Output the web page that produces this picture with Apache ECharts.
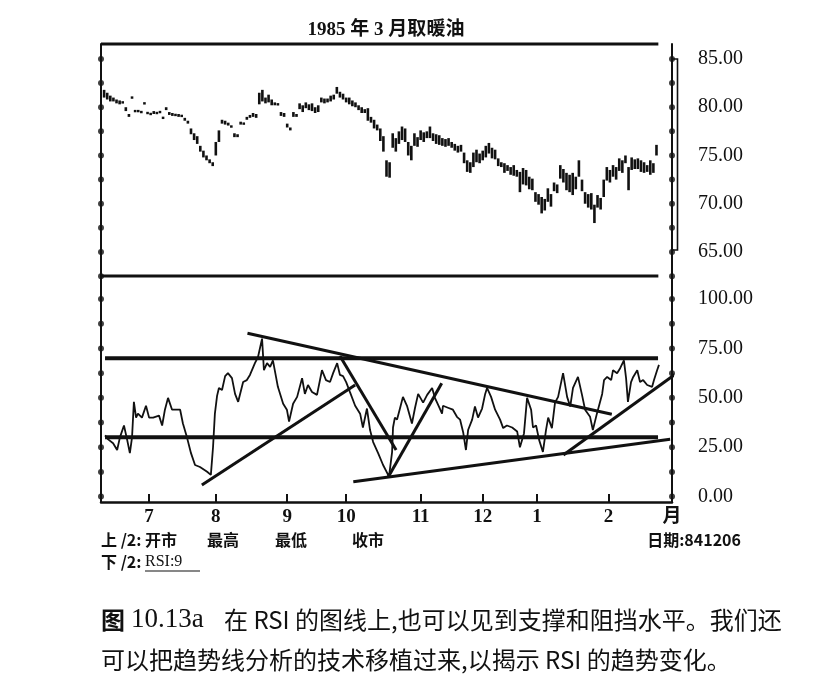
<!DOCTYPE html>
<html><head><meta charset="utf-8">
<script src="https://cdn.jsdelivr.net/npm/echarts@6.0.0/dist/echarts.min.js"></script>
<style>html,body{margin:0;padding:0;background:#fff}#c{width:827px;height:689px}</style>
</head><body><div id="c"></div>
<script>
// ---- data ----
const titleText = '1985 年 3 月取暖油';
const monthTickDays = [15.5, 37, 60, 79, 103, 123, 140.5, 163.5];
const monthLabels = ['7', '8', '9', '10', '11', '12', '1', '2'];
const priceTicks = [62.5, 65, 67.5, 70, 72.5, 75, 77.5, 80, 82.5, 85];
const priceLabels = [65, 70, 75, 80, 85];
const rsiTicks = [0, 12.5, 25, 37.5, 50, 62.5, 75, 87.5, 100];
const rsiLabels = [0, 25, 50, 75, 100];
const priceStartDay = 1;
const priceHigh = [81.8,81.5,81.2,81.0,80.8,80.7,80.6,80.0,79.3,81.1,79.7,79.7,79.6,80.5,79.5,79.4,79.6,79.5,79.6,79.0,
80.0,79.5,79.4,79.3,79.3,79.2,78.9,78.6,77.8,77.3,77.0,76.0,75.5,75.0,74.6,74.3,76.4,77.6,78.7,78.6,
78.4,78.1,77.3,77.2,78.5,78.4,79.0,79.2,79.4,79.3,81.5,81.8,81.0,81.3,80.8,80.5,80.4,79.5,79.4,78.3,
77.9,79.5,79.3,80.4,80.2,80.5,80.3,80.4,80.0,80.2,81.0,80.9,80.9,81.2,81.3,82.1,81.6,81.4,81.0,81.0,
80.7,80.5,80.2,80.0,79.8,79.9,79.0,78.7,78.2,77.8,77.0,74.5,74.3,77.3,76.8,77.5,78.0,77.8,76.4,76.0,
77.3,76.9,77.6,77.4,77.5,78.0,77.3,77.2,77.1,76.8,76.7,76.8,76.4,76.2,76.0,76.1,75.3,74.5,74.3,75.3,
75.6,75.2,75.5,76.0,76.3,75.8,75.6,74.7,74.3,74.2,74.0,73.8,74.0,73.5,73.3,73.7,73.5,72.8,72.6,71.2,
71.0,70.7,70.5,71.6,71.0,72.2,72.0,74.0,73.6,73.2,73.0,73.2,72.8,74.5,72.5,71.2,71.0,71.1,69.9,70.9,
70.6,72.5,73.8,73.5,74.0,73.8,74.7,74.5,75.0,73.8,74.8,74.6,74.7,74.5,74.3,74.0,74.5,74.2,76.1];
const priceLow = [81.0,80.8,80.6,80.6,80.4,80.3,80.4,79.6,79.0,80.9,79.5,79.5,79.4,80.3,79.3,79.2,79.3,79.3,79.4,78.8,
79.7,79.2,79.1,79.1,79.0,79.0,78.6,78.3,77.2,76.6,76.2,75.4,74.8,74.5,74.2,73.9,75.0,76.4,78.3,78.2,
78.1,77.9,76.9,76.9,78.2,78.2,78.7,78.9,79.0,78.9,80.3,80.6,80.4,80.5,80.2,80.2,80.2,79.1,79.0,77.9,
77.6,79.0,79.0,79.8,79.5,79.9,79.7,79.6,79.4,79.5,80.5,80.4,80.5,80.6,80.8,81.4,81.0,80.8,80.5,80.3,
80.1,80.0,79.7,79.4,79.4,78.6,78.4,77.8,77.6,76.5,75.4,72.8,72.7,75.8,75.4,76.2,76.6,76.4,75.0,74.5,
76.0,75.9,76.6,76.4,76.8,76.8,76.5,76.2,76.1,76.0,75.9,76.0,75.8,75.5,75.3,75.4,74.2,73.3,73.2,73.8,
74.3,74.2,74.5,74.8,75.2,74.7,74.6,73.9,73.8,73.2,73.4,73.0,72.9,72.8,71.2,72.0,71.9,71.5,71.4,70.2,
69.9,69.0,69.3,70.2,69.7,71.3,71.1,72.6,72.2,71.4,71.2,70.9,71.5,72.8,71.3,70.0,69.6,69.4,68.0,69.6,
69.4,70.7,72.4,72.2,72.8,72.5,73.4,73.2,74.2,71.4,73.5,73.6,73.6,73.3,73.2,73.3,73.0,73.2,75.0];
const rsiDays = [1.3,2.3,3.9,5.2,6.1,7.4,8.4,9.3,10,10.6,11.3,11.9,13.2,14.5,15.5,16.8,18.7,19.7,20.6,21.6,
22.9,25.5,26.4,27.7,29,30.3,31.9,34.2,35.4,36.1,36.7,37.4,38,39,40,40.9,42.2,43.2,44.2,45.8,
47,48,49.6,50.6,51.9,52.5,53.5,54.5,55.4,57,58.7,59.9,60.6,61.9,63.2,64.8,65.7,66.7,68,69.6,
71.2,72.5,73.8,74.8,76.1,77,78,79,80.2,81.9,83.5,84.4,85.7,86.7,87.7,89.3,90.9,92.2,92.8,93.8,
94.1,94.7,95.4,96.4,97.3,98.6,100.2,101.2,102.2,103.8,105.1,106.7,107.6,108.9,109.9,110.2,111.8,113.4,114.7,115.7,
116.7,117.6,118.3,119.6,120.5,121.5,122.8,123.8,124.4,125.7,127,128.6,129.6,130.8,132.5,134.1,135,136.3,137.3,138.6,
139.2,140.2,141.2,142.4,143.4,144.1,145.3,146.3,147.3,148.9,150.2,151.2,152.1,153.7,155,156,157.6,158.5,159.8,161.5,
162.1,163.1,164.4,165,166.3,167.3,168.5,169.2,169.8,170.8,171.5,172.8,173.7,174.7,176,177.6,178.2,179.2,179.8];
const rsiValues = [31,29,27,23.6,30,36,29,22,30,48,40,42,40,46,40,40,41,36,44,50,
44,44,37,30,22,16,15,12.6,11,25,42,51,55,54,61,62.5,60,52,48,58,
59,61.6,67.6,70.7,80,64,67.6,65.7,69,55.6,47,44,38,47,50.5,60,52,56.5,53,51.5,
64,59,58,62.5,67.6,61.6,61,58,53,46,42,35,44.6,33.7,27.6,22,16,12,10,22.5,
35,40,39,45,50.5,46,37,45,52,47.6,51.5,55,50,45.6,42,46,45,44,40.4,39,
32.6,23.6,33.7,39,45.6,40,44.6,52,55,50.5,44,39,34.7,36,35,33,25,32,50,44,
35,36,28.6,22.6,33.7,40,34.7,47.6,50.5,62.5,50.5,45.6,55,60.6,51.5,44,40.4,33.7,42,52,
59,60.6,59,64,62.5,65,69,60,48,58,60.6,64,58,59,56.5,55.6,59,64,66.7];
const rsiLevels = [70, 30];
const levelSpan = [1.3, 179.5];
const trendLines = [
  [[32.5, 5.9], [81.9, 56.5]],
  [[47.2, 82.7], [164.6, 41.7]],
  [[77, 71.2], [95.1, 23.6]],
  [[92.6, 10.1], [109.8, 57.4]],
  [[81.3, 7.5], [183.4, 29.0]],
  [[149, 21.1], [187.6, 64.9]]
];
const xMax = 184;
const priceRange = [62.41, 86.55];
const rsiRange = [-2.73, 111.7];
const frameEnd = 179.6;

// ---- chart ----
const INK = '#111';
const SERIF = '"Liberation Serif", "Noto Sans CJK SC", serif';
const CJK = '"Noto Sans CJK SC", "Liberation Serif", sans-serif';
const chart = echarts.init(document.getElementById('c'), null, {renderer: 'canvas'});

const priceData = priceHigh.map((h, i) => [priceStartDay + i, priceLow[i], h]);
const rsiData = rsiDays.map((d, i) => [d, rsiValues[i]]);

function dots(grid, ticks, xv) {
  return {type: 'scatter', xAxisIndex: grid, yAxisIndex: grid * 2, symbol: 'circle', symbolSize: 6,
    itemStyle: {color: INK}, clip: false, silent: true, z: 5,
    data: ticks.map(v => [xv, v])};
}
function seg(grid, pts, width) {
  return {type: 'line', xAxisIndex: grid, yAxisIndex: grid * 2, data: pts, symbol: 'none', clip: false,
    silent: true, lineStyle: {color: INK, width: width}, z: 4};
}

const series = [
  {type: 'custom', xAxisIndex: 0, yAxisIndex: 0, data: priceData, silent: true,
    renderItem(params, api) {
      const x = api.value(0);
      const pLo = api.coord([x, api.value(1)]);
      const pHi = api.coord([x, api.value(2)]);
      let h = pLo[1] - pHi[1];
      let y = pHi[1];
      if (h < 2.4) { y -= (2.4 - h) / 2; h = 2.4; }
      return {type: 'rect', shape: {x: pLo[0] - 1.3, y: y, width: 2.6, height: h}, style: {fill: INK}};
    }},
  {type: 'line', xAxisIndex: 1, yAxisIndex: 2, data: rsiData, symbol: 'none', silent: true,
    lineStyle: {color: INK, width: 1.8}, z: 3},
  seg(0, [[0, priceRange[1]], [frameEnd, priceRange[1]]], 3),
  seg(1, [[0, rsiRange[1]], [frameEnd, rsiRange[1]]], 3),
  ...rsiLevels.map(v => seg(1, [[levelSpan[0], v], [levelSpan[1], v]], 4)),
  ...trendLines.map(t => seg(1, t, 3)),
  dots(0, priceTicks, 0), dots(0, priceTicks, xMax),
  dots(1, rsiTicks, 0), dots(1, rsiTicks, xMax)
];

const yBase = {type: 'value', splitLine: {show: false}, axisTick: {show: false},
  axisLine: {show: true, onZero: false, lineStyle: {color: INK, width: 2}}};
const labelStyle = {color: INK, fontFamily: SERIF, fontSize: 20, margin: 26};

const option = {
  backgroundColor: '#fff',
  animation: false,
  grid: [
    {left: 101, top: 44, width: 571, height: 233},
    {left: 101, top: 276, width: 571, height: 226}
  ],
  xAxis: [
    {type: 'value', gridIndex: 0, min: 0, max: xMax, show: false},
    {type: 'value', gridIndex: 1, min: 0, max: xMax, position: 'bottom', splitLine: {show: false},
      axisLine: {show: true, onZero: false, lineStyle: {color: INK, width: 2.5}},
      axisTick: {show: true, inside: true, length: 8, lineStyle: {color: INK, width: 2}, customValues: monthTickDays},
      axisLabel: {customValues: monthTickDays.concat([xMax]), color: INK, fontFamily: SERIF, fontSize: 19,
        fontWeight: 'bold', margin: 6,
        formatter: v => { const i = monthTickDays.indexOf(v); return i >= 0 ? monthLabels[i] : '月'; }}}
  ],
  yAxis: [
    Object.assign({}, yBase, {gridIndex: 0, min: priceRange[0], max: priceRange[1], position: 'left', axisLabel: {show: false}}),
    Object.assign({}, yBase, {gridIndex: 0, min: priceRange[0], max: priceRange[1], position: 'right',
      axisLabel: Object.assign({}, labelStyle, {customValues: priceLabels, formatter: v => v.toFixed(2)})}),
    Object.assign({}, yBase, {gridIndex: 1, min: rsiRange[0], max: rsiRange[1], position: 'left', axisLabel: {show: false}}),
    Object.assign({}, yBase, {gridIndex: 1, min: rsiRange[0], max: rsiRange[1], position: 'right',
      axisLabel: Object.assign({}, labelStyle, {customValues: rsiLabels, formatter: v => v.toFixed(2)})})
  ],
  series: series
};
chart.setOption(option);

// decorations and text
const pTop = chart.convertToPixel({gridIndex: 0}, [xMax, priceLabels[priceLabels.length - 1]]);
const pBot = chart.convertToPixel({gridIndex: 0}, [xMax, 65.2]);
function txt(x, y, s, size, weight, family, align) {
  return {type: 'text', x: x, y: y, silent: true,
    style: {text: s, fill: INK, font: (weight || 'normal') + ' ' + size + 'px ' + (family || CJK),
      textAlign: align || 'left', textVerticalAlign: 'middle'}};
}
chart.setOption({graphic: [
  {type: 'rect', silent: true, shape: {x: pTop[0], y: pTop[1], width: 5.5, height: pBot[1] - pTop[1]},
    style: {fill: 'none', stroke: INK, lineWidth: 1.6}},
  txt(386, 30, titleText, 19, 'bold', SERIF, 'center'),
  txt(101, 540, '上 /2:', 16, 'bold'),
  txt(145, 540, '开市', 16, 'bold'),
  txt(207, 540, '最高', 16, 'bold'),
  txt(275, 540, '最低', 16, 'bold'),
  txt(352, 540, '收市', 16, 'bold'),
  txt(741, 540, '日期:841206', 16, 'bold', CJK, 'right'),
  txt(101, 562, '下 /2:', 16, 'bold'),
  txt(145, 562, 'RSI:9', 16, 'normal', SERIF),
  {type: 'line', silent: true, shape: {x1: 145, y1: 571, x2: 200, y2: 571}, style: {stroke: INK, lineWidth: 1.2}},
  txt(101, 620, '图', 24, 'bold'),
  txt(131, 620, '10.13a', 27, 'normal', SERIF),
  txt(224, 620, '在 RSI 的图线上,也可以见到支撑和阻挡水平。我们还', 24, 'normal'),
  txt(101, 660, '可以把趋势线分析的技术移植过来,以揭示 RSI 的趋势变化。', 24, 'normal')
]});
</script></body></html>
